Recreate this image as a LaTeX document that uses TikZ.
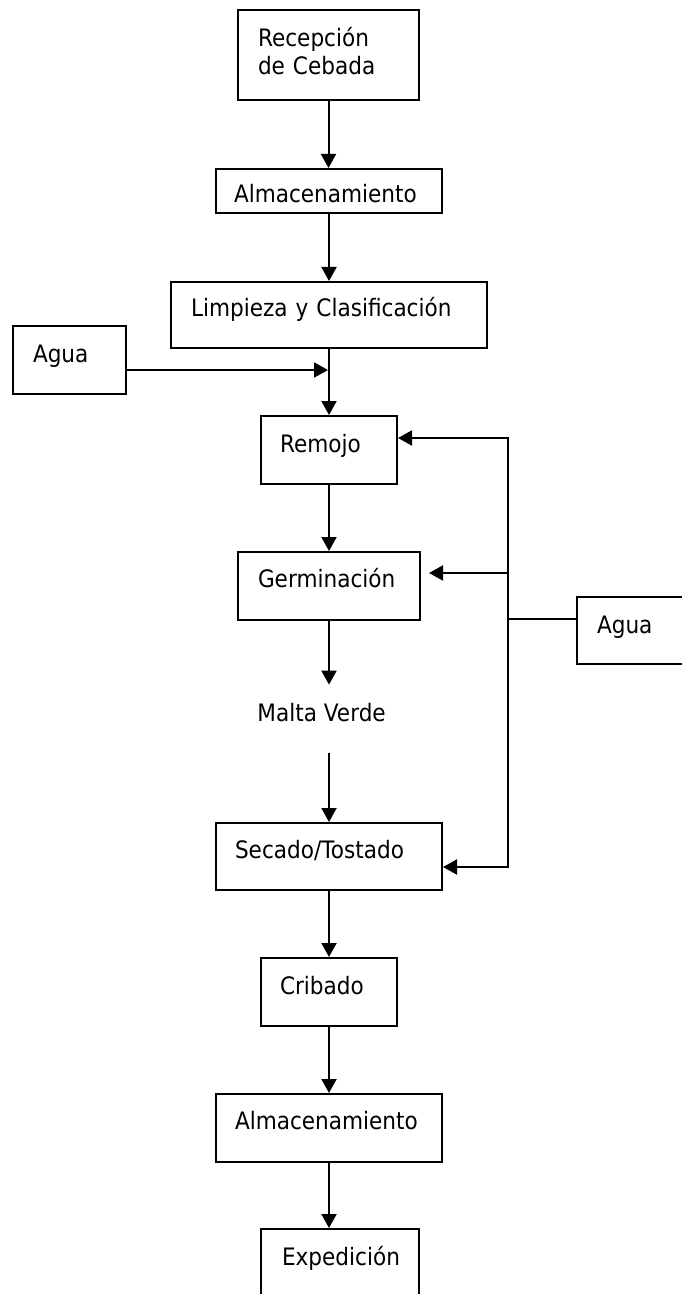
\documentclass[tikz,border=0pt]{standalone}
\usepackage{fontspec}
\setmainfont{DejaVu Sans}[FakeStretch=0.9]
\usetikzlibrary{arrows.meta}

\begin{document}
\begin{tikzpicture}[x=0.5pt,y=-0.5pt,
    font=\fontsize{12pt}{14pt}\selectfont,
    procbox/.style={draw, line width=1pt, anchor=north west, align=left, inner ysep=0pt},
    flow/.style={line width=1pt},
    arr/.style={flow, -{Triangle[width=7.5pt,length=7pt]}}]
    \useasboundingbox (0,0) rectangle (681,1294);

    % Main process column
    \node[procbox, inner xsep=10pt, text width=70.5pt, text height=18.5pt, text depth=26.5pt] (recep) at (237,9) {Recepción\\de Cebada};
    \node[procbox, inner xsep=9pt, text width=95pt, text height=17pt, text depth=5pt] (alm1) at (215,168) {Almacenamiento};
    \node[procbox, inner xsep=10pt, text width=138pt, text height=17.5pt, text depth=15.5pt] (limp) at (170,281) {Limpieza y Clasificación};
    \node[procbox, inner xsep=9.5pt, text width=49pt, text height=18pt, text depth=16pt] (remojo) at (260,415) {Remojo};
    \node[procbox, inner xsep=10pt, text width=71pt, text height=17.5pt, text depth=16.5pt] (germ) at (237,551) {Germinación};
    \node[anchor=base west, inner sep=0pt, text height=18pt, text depth=16pt] (malta) at (257,721) {Malta Verde};
    \node[procbox, inner xsep=9.5pt, text width=94pt, text height=17.5pt, text depth=16pt] (secado) at (215,822) {Secado/Tostado};
    \node[procbox, inner xsep=9.5pt, text width=49pt, text height=18pt, text depth=16pt] (crib) at (260,957) {Cribado};
    \node[procbox, inner xsep=9.5pt, text width=94pt, text height=17.5pt, text depth=16.5pt] (alm2) at (215,1093) {Almacenamiento};
    \node[procbox, inner xsep=10.5pt, text width=58pt, text height=18pt, text depth=18pt] (expe) at (260,1228) {Expedición};

    % Water inputs
    \node[procbox, inner xsep=10pt, text width=36.5pt, text height=18pt, text depth=16pt] (agua1) at (12,325) {Agua};
    \node[procbox, inner xsep=10pt, text width=37pt, text height=18pt, text depth=15.5pt] (agua2) at (576,596) {Agua};

    \coordinate (join) at (328,370);
    \coordinate (bustop) at (508,438);
    \coordinate (busmid) at (508,573);
    \coordinate (busin) at (508,619);
    \coordinate (busbot) at (508,867);

    % Arrows down the column
    \draw[arr] (recep.south) -- (recep.south |- alm1.north);
    \draw[arr] (alm1.south) -- (alm1.south |- limp.north);
    \draw[arr] (limp.south) -- (limp.south |- remojo.north);
    \draw[arr] (remojo.south) -- (remojo.south |- germ.north);
    \draw[arr] (germ.south) -- (germ.south |- malta.north);
    \draw[arr] (secado.north |- malta.south) -- (secado.north);
    \draw[arr] (secado.south) -- (secado.south |- crib.north);
    \draw[arr] (crib.south) -- (crib.south |- alm2.north);
    \draw[arr] (alm2.south) -- (alm2.south |- expe.north);

    % Water to soaking
    \draw[arr] (agua1.east |- join) -- (join);

    % Water distribution line
    \draw[flow] (agua2.west |- busin) -- (busin);
    \draw[arr] (busbot) -- (bustop) -- (remojo.east |- bustop);
    \draw[arr] (bustop) -- (busbot) -- (secado.east |- busbot);
    \draw[arr, shorten >=4pt] (busmid) -- (germ.east |- busmid);
\end{tikzpicture}
\end{document}
